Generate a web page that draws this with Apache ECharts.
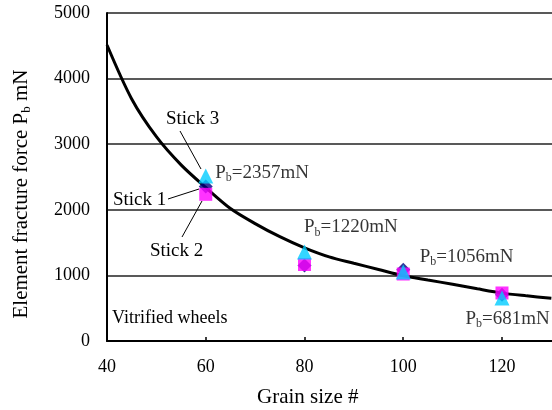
<!DOCTYPE html>
<html><head><meta charset="utf-8">
<script src="https://cdn.jsdelivr.net/npm/echarts@6/dist/echarts.min.js"></script>
<style>html,body{margin:0;padding:0;background:#fff}#c{width:552px;height:410px}</style>
</head><body><div id="c"></div>
<script>
// ---- data ----
const grainSizes = [60, 80, 100, 120];
const stick1 = [2357, 1150, 1087, 705];   // diamonds
const stick2 = [2236, 1166, 1021, 732];   // squares
const stick3 = [2515, 1357, 1052, 655];   // triangles
const pbValues = [2357, 1220, 1056, 681];
const curveX = [40, 45, 50, 55, 60, 65, 70, 75, 80, 85, 90, 95, 100, 105, 110, 115, 120, 125, 130];
const curveY = [4512, 3690, 3115, 2685, 2340, 2020, 1790, 1590, 1420, 1282, 1185, 1090, 995, 930, 865, 795, 730, 688, 651];
const xTickValues = [40, 60, 80, 100, 120];
const yTickValues = [0, 1000, 2000, 3000, 4000, 5000];
const xVisibleMax = 130.13;   // the reference crops the x axis at the right edge

// label placement offsets (pixels) for the Pb annotations
const pbOffsets = [[10, -13], [0, -33], [17, -14], [-36, 23]];

const FONT = "'Liberation Serif', 'Times New Roman', serif";
const chart = echarts.init(document.getElementById('c'), null, {renderer: 'canvas'});

const richPb = {
  n: {fontFamily: FONT, fontSize: 19, color: '#000', lineHeight: 22},
  s: {fontFamily: FONT, fontSize: 12, color: '#000', lineHeight: 10, verticalAlign: 'bottom'}
};

chart.setOption({
  animation: false,
  backgroundColor: '#fff',
  grid: {left: 107, top: 13, bottom: 69, right: 0, containLabel: false},
  xAxis: {
    type: 'value', min: xTickValues[0], max: xVisibleMax,
    interval: xTickValues[1] - xTickValues[0],
    axisLine: {show: true, onZero: false, lineStyle: {color: '#000', width: 2}},
    axisTick: {show: true, inside: true, length: 4, lineStyle: {color: '#000', width: 1.5}},
    splitLine: {show: false},
    axisLabel: {color: '#000', fontFamily: FONT, fontSize: 18, margin: 17, showMaxLabel: false,
      formatter: v => (xTickValues.indexOf(v) >= 0 ? String(v) : '')}
  },
  yAxis: {
    type: 'value', min: yTickValues[0], max: yTickValues[yTickValues.length - 1],
    interval: yTickValues[1] - yTickValues[0],
    axisLine: {show: true, lineStyle: {color: '#000', width: 2}},
    axisTick: {show: false},
    splitLine: {show: true, lineStyle: {color: '#222', width: 1.5}},
    axisLabel: {color: '#000', fontFamily: FONT, fontSize: 18, margin: 17, formatter: v => String(v)}
  },
  series: [
    {
      name: 'fit', type: 'line', silent: true, z: 2,
      data: curveX.map((x, i) => [x, curveY[i]]),
      showSymbol: false, smooth: 0.3,
      lineStyle: {color: '#000', width: 3}
    },
    {
      name: 'Stick 1', type: 'scatter', z: 3, symbol: 'diamond', symbolSize: 14,
      itemStyle: {color: '#000080'},
      data: grainSizes.map((x, i) => [x, stick1[i]])
    },
    {
      name: 'Stick 2', type: 'scatter', z: 4, symbol: 'rect', symbolSize: 13,
      itemStyle: {color: '#FF00FF'},
      data: grainSizes.map((x, i) => [x, stick2[i]])
    },
    {
      name: 'Stick 3', type: 'scatter', z: 5, symbol: 'triangle', symbolSize: 15,
      itemStyle: {color: '#00CCFF'},
      data: grainSizes.map((x, i) => [x, stick3[i]])
    },
    {
      name: 'Pb', type: 'scatter', z: 6, symbolSize: 1, silent: true,
      itemStyle: {color: 'rgba(0,0,0,0)'},
      data: grainSizes.map((x, i) => ({
        value: [x, pbValues[i]],
        label: {
          show: true, position: pbOffsets[i], align: 'left', verticalAlign: 'middle',
          formatter: '{n|P}{s|b}{n|=' + pbValues[i] + 'mN}', rich: richPb
        }
      }))
    }
  ],
  graphic: [
    {type: 'line', z: 10, shape: {x1: 180, y1: 131, x2: 201, y2: 169}, style: {stroke: '#000', lineWidth: 1}},
    {type: 'line', z: 10, shape: {x1: 168, y1: 199, x2: 199, y2: 189}, style: {stroke: '#000', lineWidth: 1}},
    {type: 'line', z: 10, shape: {x1: 182, y1: 237, x2: 202, y2: 201}, style: {stroke: '#000', lineWidth: 1}},
    {type: 'text', z: 10, x: 166, y: 119, style: {text: 'Stick 3', font: '19px ' + FONT, fill: '#000', textAlign: 'left', textVerticalAlign: 'middle'}},
    {type: 'text', z: 10, x: 113, y: 200, style: {text: 'Stick 1', font: '19px ' + FONT, fill: '#000', textAlign: 'left', textVerticalAlign: 'middle'}},
    {type: 'text', z: 10, x: 150, y: 251, style: {text: 'Stick 2', font: '19px ' + FONT, fill: '#000', textAlign: 'left', textVerticalAlign: 'middle'}},
    {type: 'text', z: 10, x: 112, y: 318, style: {text: 'Vitrified wheels', font: '18px ' + FONT, fill: '#000', textAlign: 'left', textVerticalAlign: 'middle'}},
    {type: 'text', z: 10, x: 257, y: 397, style: {text: 'Grain size #', font: '21px ' + FONT, fill: '#000', textAlign: 'left', textVerticalAlign: 'middle'}},
    {type: 'text', z: 10, x: 21, y: 194, rotation: Math.PI / 2,
      style: {
        text: '{n|Element fracture force P}{s|b}{n| mN}',
        rich: {
          n: {fontFamily: FONT, fontSize: 21, fill: '#000', lineHeight: 24},
          s: {fontFamily: FONT, fontSize: 13, fill: '#000', lineHeight: 10, verticalAlign: 'bottom'}
        },
        textAlign: 'center', textVerticalAlign: 'middle'
      }}
  ]
});
</script></body></html>
